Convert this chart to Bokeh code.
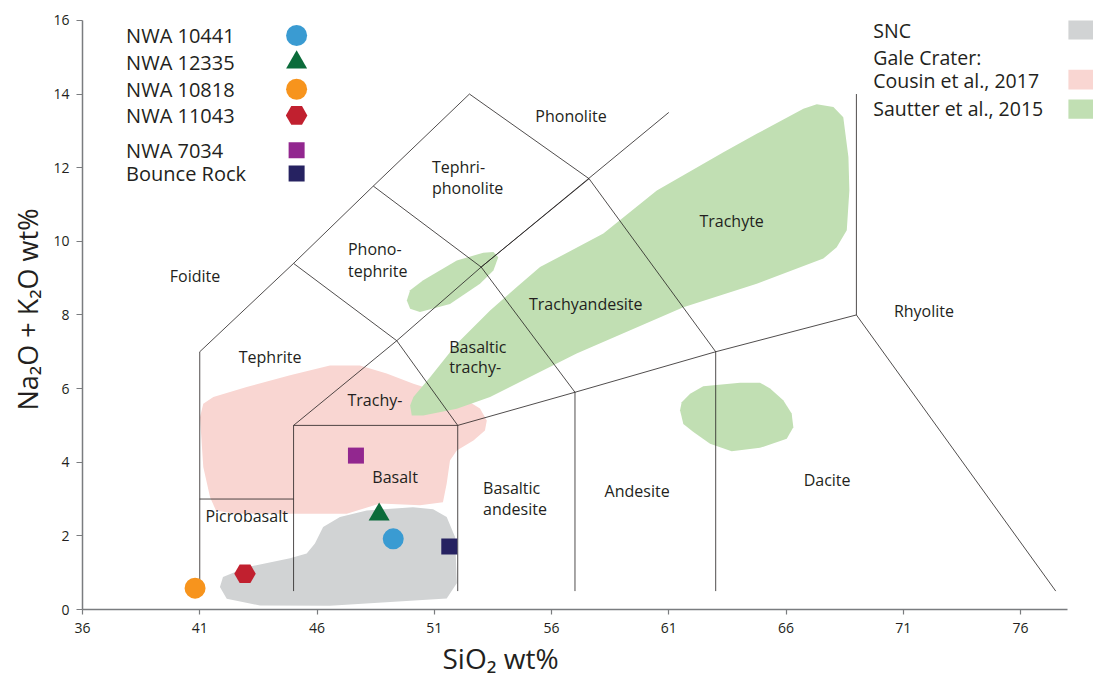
from bokeh.plotting import figure
from bokeh.models import Range1d, FixedTicker, ColumnDataSource, Title
from bokeh.core.properties import value
from bokeh.embed import file_html
from bokeh.resources import INLINE

FONT = "Open Sans"
INK = "#231f20"

# --- sample compositions (SiO2, Na2O+K2O, wt%) ---
samples = ["NWA 10441", "NWA 12335", "NWA 10818", "NWA 11043", "NWA 7034", "Bounce Rock"]
sio2 = [49.25, 48.65, 40.80, 42.93, 47.66, 51.64]
alkali = [1.92, 2.58, 0.58, 0.97, 4.18, 1.71]
markers = ["circle", "triangle", "circle", "hex", "square", "square"]
colors = ["#3a9bd2", "#0b6b3a", "#f7941d", "#c1202f", "#92278f", "#262261"]
sizes = [21, 21, 21, 21.5, 16, 16]

# --- compositional fields (outlines) ---
snc_x = [41.86, 42.15, 43.57, 46.55, 51.53, 51.96, 51.89, 51.53, 50.95, 50.09,
         48.12, 46.98, 46.26, 45.91, 45.56, 44.85, 43.00, 41.99]
snc_y = [0.61, 0.29, 0.11, 0.10, 0.30, 0.71, 1.96, 2.51, 2.72, 2.78,
         2.69, 2.51, 2.24, 1.79, 1.52, 1.39, 1.15, 0.88]

cousin_x = [41.15, 41.01, 41.15, 41.44, 41.69, 42.50, 47.27, 48.69, 50.39, 51.37,
            51.53, 51.67, 51.96, 52.67, 53.16, 53.24, 52.95, 52.38, 51.25, 50.11,
            48.97, 47.83, 46.55, 44.85, 43.00, 41.58]
cousin_y = [5.59, 5.22, 3.87, 3.05, 2.69, 2.60, 2.60, 2.88, 2.83, 2.91,
            3.42, 4.05, 4.32, 4.59, 4.86, 5.13, 5.46, 5.68, 5.90, 6.13,
            6.41, 6.63, 6.63, 6.36, 6.04, 5.77]

sautter_main_x = [49.97, 50.04, 50.53, 51.96, 53.38, 57.07, 61.62, 64.75, 67.59, 68.16,
                  68.59, 68.70, 68.66, 68.44, 68.02, 67.31, 66.74, 64.75, 63.33, 60.49,
                  58.21, 55.51, 54.52, 53.38, 51.96, 50.82, 50.11]
sautter_main_y = [5.54, 5.27, 5.27, 5.45, 5.77, 6.95, 8.21, 8.85, 9.53, 9.84,
                  10.30, 11.38, 12.29, 13.37, 13.65, 13.72, 13.60, 12.92, 12.42, 11.38,
                  10.21, 9.30, 8.76, 8.12, 7.22, 6.31, 5.77]
sautter_small_x = [49.83, 49.97, 50.39, 51.67, 52.95, 53.52, 53.73, 53.52, 53.09, 51.96,
                   50.53, 49.97]
sautter_small_y = [8.39, 8.17, 8.08, 8.30, 8.85, 9.21, 9.57, 9.71, 9.69, 9.48,
                   8.94, 8.67]
sautter_dacite_x = [61.48, 61.62, 62.05, 62.76, 63.68, 64.89, 66.03, 66.31, 66.24, 65.88,
                    65.32, 64.89, 64.04, 62.47, 61.91, 61.55]
sautter_dacite_y = [5.41, 5.04, 4.82, 4.50, 4.30, 4.39, 4.64, 4.95, 5.32, 5.68,
                    6.00, 6.16, 6.16, 6.06, 5.86, 5.63]

# --- TAS classification boundaries ---
tas_lines = [
    [(41, 0.5), (41, 7), (45, 9.4), (48.4, 11.5), (52.5, 14), (57.6, 11.7), (63, 7)],
    [(41, 3), (45, 3)],
    [(45, 0.5), (45, 5), (52, 5), (52, 0.5)],
    [(45, 5), (49.4, 7.3), (52, 5)],
    [(45, 9.4), (49.4, 7.3), (53, 9.3), (61, 13.5)],
    [(48.4, 11.5), (53, 9.3), (57, 5.9)],
    [(53, 9.3), (57.6, 11.7)],
    [(52, 5), (57, 5.9), (63, 7), (69, 8)],
    [(57, 0.5), (57, 5.9)],
    [(63, 0.5), (63, 7)],
    [(69, 14), (69, 8), (77.5, 0.5)],
]

# field names: (text, x, y, align)
field_names = [
    ("Foidite", 40.80, 9.05, "center"),
    ("Phonolite", 56.83, 13.39, "center"),
    ("Tephri-", 50.90, 12.01, "left"),
    ("phonolite", 50.90, 11.44, "left"),
    ("Phono-", 47.32, 9.78, "left"),
    ("tephrite", 47.32, 9.18, "left"),
    ("Tephrite", 44.00, 6.85, "center"),
    ("Trachy-", 48.47, 5.68, "center"),
    ("Basalt", 49.33, 3.59, "center"),
    ("Picrobasalt", 43.00, 2.55, "center"),
    ("Basaltic", 53.08, 3.31, "left"),
    ("andesite", 53.08, 2.74, "left"),
    ("Andesite", 59.65, 3.23, "center"),
    ("Dacite", 67.75, 3.53, "center"),
    ("Rhyolite", 71.88, 8.12, "center"),
    ("Trachyte", 63.68, 10.55, "center"),
    ("Trachyandesite", 57.46, 8.30, "center"),
    ("Basaltic", 51.64, 7.14, "left"),
    ("trachy-", 51.64, 6.58, "left"),
]

x_ticks = [36, 41, 46, 51, 56, 61, 66, 71, 76]
y_ticks = [0, 2, 4, 6, 8, 10, 12, 14, 16]

p = figure(width=1093, height=681, output_backend="svg", toolbar_location=None,
           x_range=Range1d(36, 79.11), y_range=Range1d(0, 16.54),
           min_border_left=82, min_border_right=0, min_border_top=0, min_border_bottom=72)
p.outline_line_color = None
p.xgrid.visible = False
p.ygrid.visible = False
p.background_fill_color = "white"

for ax, ticks, bounds in ((p.xaxis[0], x_ticks, (36, 78)), (p.yaxis[0], y_ticks, (0, 16))):
    ax.ticker = FixedTicker(ticks=ticks)
    ax.bounds = bounds
    ax.axis_line_color = "#7a7c7f"
    ax.axis_line_width = 1.5
    ax.major_tick_line_color = "#7a7c7f"
    ax.major_tick_line_width = 1.2
    ax.major_tick_in = 0
    ax.minor_tick_line_color = None
    ax.major_label_text_font = FONT
    ax.major_label_text_font_size = "14px"
    ax.major_label_text_color = INK
p.xaxis.major_tick_out = 5
p.yaxis.major_tick_out = 6
p.xaxis.major_label_standoff = 8
p.yaxis.major_label_standoff = 7

# axis titles
p.add_layout(Title(text="SiO\u2082 wt%", align="left", offset=360, standoff=3,
                   text_font=FONT, text_font_size="28px", text_font_style="normal",
                   text_color=INK), "below")
p.add_layout(Title(text="Na\u2082O + K\u2082O wt%", align="left", offset=199, standoff=10,
                   text_font=FONT, text_font_size="27px", text_font_style="normal",
                   text_color=INK), "left")

# fields
p.patch(snc_x, snc_y, fill_color="#d1d3d4", line_color=None)
p.patch(cousin_x, cousin_y, fill_color="#f9d6d2", line_color=None)
p.patches([sautter_main_x, sautter_small_x, sautter_dacite_x],
          [sautter_main_y, sautter_small_y, sautter_dacite_y],
          fill_color="#c1dfb3", line_color=None)

# boundaries
p.multi_line([[pt[0] for pt in seg] for seg in tas_lines],
             [[pt[1] for pt in seg] for seg in tas_lines],
             line_color=INK, line_width=0.8)

# field names
for align in ("center", "left"):
    rows = [f for f in field_names if f[3] == align]
    p.text(x=[r[1] for r in rows], y=[r[2] for r in rows], text=[r[0] for r in rows],
           text_font=value(FONT), text_font_size="16px", text_color=INK,
           text_align=align, text_baseline="middle")

# samples
src = ColumnDataSource(dict(x=sio2, y=alkali, marker=markers, color=colors, size=sizes))
p.scatter("x", "y", source=src, marker="marker", fill_color="color", line_color=None, size="size")

# sample key, top left
key_y = [15.59, 14.86, 14.13, 13.42, 12.47, 11.84]
p.text(x=[37.86] * len(samples), y=key_y, text=samples, text_font=value(FONT),
       text_font_size="20px", text_color=INK, text_align="left", text_baseline="middle")
p.scatter(x=[45.13] * len(samples), y=key_y, marker=markers, fill_color=colors,
          line_color=None, size=sizes)

# field key, top right
p.text(x=[69.72] * 4, y=[15.73, 15.0, 14.37, 13.60],
       text=["SNC", "Gale Crater:", "Cousin et al., 2017", "Sautter et al., 2015"],
       text_font=value(FONT), text_font_size="19.5px", text_color=INK,
       text_align="left", text_baseline="middle")
p.quad(left=[78.04] * 3, right=[80.0] * 3, top=[16.0, 14.66, 13.85], bottom=[15.48, 14.12, 13.33],
       fill_color=["#d1d3d4", "#f9d6d2", "#c1dfb3"], line_color=None)

open("out.html", "w").write(file_html(p, INLINE))
